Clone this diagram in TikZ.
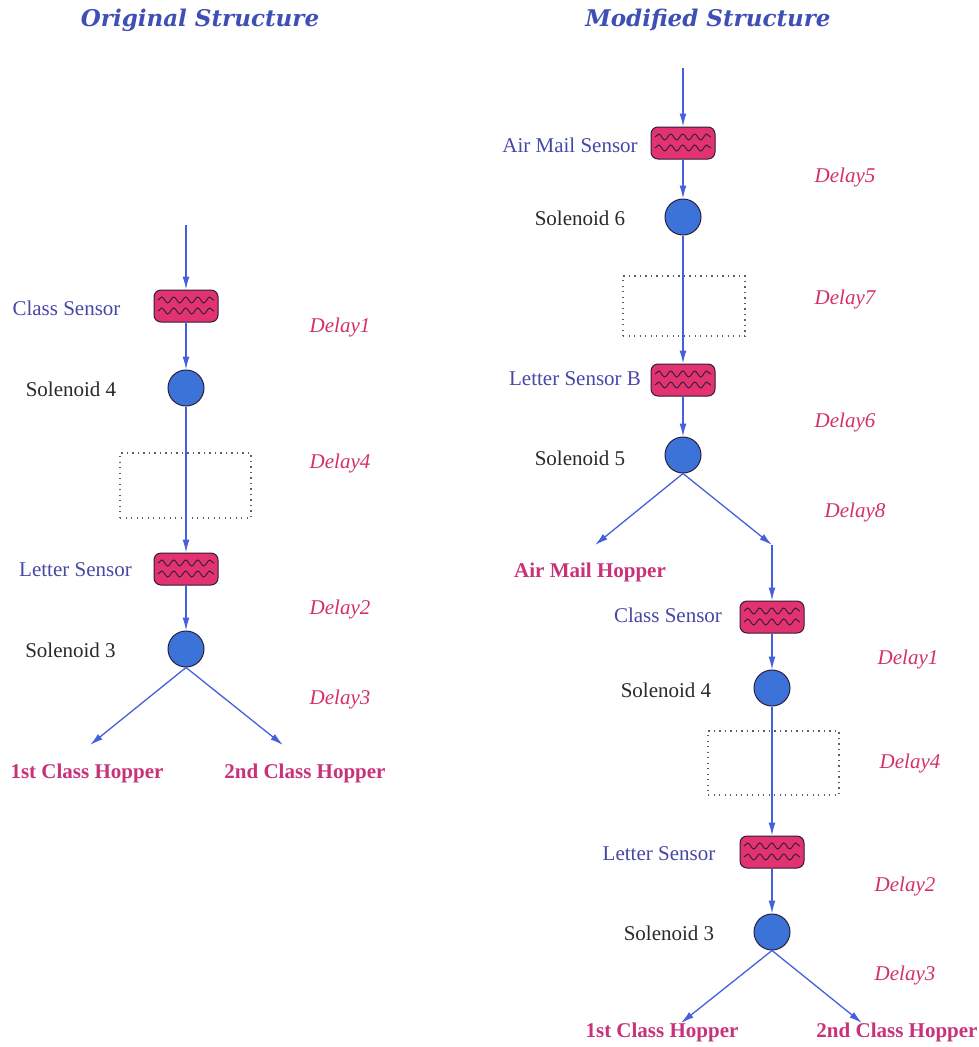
\documentclass[tikz,border=0pt]{standalone}
\usepackage{fontspec}
\setmainfont{Liberation Serif}
\newfontfamily\titlefont{DejaVu Serif}
\usetikzlibrary{arrows.meta,decorations.pathmorphing}

\definecolor{flow}{HTML}{4660DC}
\definecolor{sensorfill}{HTML}{E2326F}
\definecolor{solfill}{HTML}{3B73D9}
\definecolor{outline}{HTML}{2A1F3A}
\definecolor{sensortext}{HTML}{4548A6}
\definecolor{soltext}{HTML}{2A2A2A}
\definecolor{delaytext}{HTML}{D4306A}
\definecolor{hoppertext}{HTML}{C8327A}
\definecolor{titletext}{HTML}{3F4FB5}
\definecolor{boxdots}{HTML}{5A5A70}

\tikzset{
  basefont/.style={font=\fontsize{21}{24}\selectfont},
  wave/.style={draw=outline, line width=0.9pt, sharp corners,
    decorate, decoration={snake, segment length=12pt, amplitude=3pt}},
  sensor/.style={rectangle, rounded corners=7pt, minimum width=64pt,
    minimum height=32pt, inner sep=0pt, fill=sensorfill, draw=outline,
    line width=1pt,
    path picture={
      \draw[wave] ([xshift=4pt,yshift=6pt]path picture bounding box.west)
        -- ([xshift=-4pt,yshift=6pt]path picture bounding box.east);
      \draw[wave] ([xshift=4pt,yshift=-5pt]path picture bounding box.west)
        -- ([xshift=-4pt,yshift=-5pt]path picture bounding box.east);
    }},
  sol/.style={circle, minimum size=36pt, inner sep=0pt, fill=solfill,
    draw=outline, line width=1pt},
  delaybox/.style={rectangle, draw=boxdots, line width=1.1pt,
    dash pattern=on 1.3pt off 4.2pt, inner sep=0pt},
  flowline/.style={draw=flow, line width=1.3pt},
  flowarrow/.style={flowline, -{Latex[length=13pt,width=7pt]}},
  sensorlabel/.style={basefont, text=sensortext, inner sep=0pt},
  sollabel/.style={basefont, text=soltext, inner sep=0pt},
  delaylabel/.style={text=delaytext, font=\fontsize{21}{24}\selectfont\itshape, inner sep=0pt},
  hopper/.style={text=hoppertext, font=\fontsize{21}{24}\selectfont\bfseries, inner sep=0pt},
  heading/.style={text=titletext, font=\titlefont\fontsize{23}{27}\selectfont\bfseries\itshape, inner sep=0pt},
}

\begin{document}
\begin{tikzpicture}[x=1pt,y=-1pt]
\useasboundingbox[fill=white] (0,0) rectangle (979,1047);

% headings
\node[heading] (hOrig) at (200,20) {Original Structure};
\node[heading] (hMod) at (708,20) {Modified Structure};

% ---------------- original structure ----------------
\coordinate (inL) at (186,225);
\node[sensor] (csL) at (186,306) {};
\node[sol] (s4L) at (186,388) {};
\node[delaybox, minimum width=131pt, minimum height=65pt] (d4L) at (185.5,485.5) {};
\node[sensor] (lsL) at (186,569) {};
\node[sol] (s3L) at (186,649) {};
\coordinate (h1L) at (90,745);
\coordinate (h2L) at (283,745);

\draw[flowarrow] (inL) -- (csL);
\draw[flowarrow] (csL) -- (s4L);
\draw[flowarrow] (s4L) -- (lsL);
\draw[flowarrow] (lsL) -- (s3L);
\draw[flowarrow] (s3L.south) -- (h1L);
\draw[flowarrow] (s3L.south) -- (h2L);

\node[sensorlabel] (csLt) at (66.5,308) {Class Sensor};
\node[sollabel] (s4Lt) at (71,389) {Solenoid 4};
\node[sensorlabel] (lsLt) at (75.5,570) {Letter Sensor};
\node[sollabel] (s3Lt) at (70.5,650) {Solenoid 3};
\node[delaylabel] (dl1L) at (340,327) {Delay1};
\node[delaylabel] (dl4L) at (340,463) {Delay4};
\node[delaylabel] (dl2L) at (340,609) {Delay2};
\node[delaylabel] (dl3L) at (340,699) {Delay3};
\node[hopper] (h1Lt) at (87,773) {1st Class Hopper};
\node[hopper] (h2Lt) at (305,773) {2nd Class Hopper};

% ---------------- modified structure ----------------
\coordinate (inR) at (683,68);
\node[sensor] (amsR) at (683,143) {};
\node[sol] (s6R) at (683,217) {};
\node[delaybox, minimum width=122pt, minimum height=60pt] (d7R) at (684,306) {};
\node[sensor] (lsbR) at (683,380) {};
\node[sol] (s5R) at (683,455) {};
\coordinate (amh) at (595,545);
\coordinate (jn) at (772,545);
\node[sensor] (csR) at (772,617) {};
\node[sol] (s4R) at (772,688) {};
\node[delaybox, minimum width=131pt, minimum height=64pt] (d4R) at (773.5,763) {};
\node[sensor] (lsR) at (772,852) {};
\node[sol] (s3R) at (772,932) {};
\coordinate (h1R) at (681,1023);
\coordinate (h2R) at (862,1023);

\draw[flowarrow] (inR) -- (amsR);
\draw[flowarrow] (amsR) -- (s6R);
\draw[flowarrow] (s6R) -- (lsbR);
\draw[flowarrow] (lsbR) -- (s5R);
\draw[flowarrow] (s5R.south) -- (amh);
\draw[flowarrow] (s5R.south) -- (jn);
\draw[flowarrow] (jn) -- (csR);
\draw[flowarrow] (csR) -- (s4R);
\draw[flowarrow] (s4R) -- (lsR);
\draw[flowarrow] (lsR) -- (s3R);
\draw[flowarrow] (s3R.south) -- (h1R);
\draw[flowarrow] (s3R.south) -- (h2R);

\node[sensorlabel] (amsRt) at (570,145) {Air Mail Sensor};
\node[sollabel] (s6Rt) at (580,218) {Solenoid 6};
\node[sensorlabel] (lsbRt) at (575,379) {Letter Sensor B};
\node[sollabel] (s5Rt) at (580,458) {Solenoid 5};
\node[hopper] (amhT) at (590,572) {Air Mail Hopper};
\node[sensorlabel] (csRt) at (668,615) {Class Sensor};
\node[sollabel] (s4Rt) at (666,690) {Solenoid 4};
\node[sensorlabel] (lsRt) at (659,854) {Letter Sensor};
\node[sollabel] (s3Rt) at (669,933) {Solenoid 3};
\node[delaylabel] (dl5R) at (845,177) {Delay5};
\node[delaylabel] (dl7R) at (845,299) {Delay7};
\node[delaylabel] (dl6R) at (845,422) {Delay6};
\node[delaylabel] (dl8R) at (855,512) {Delay8};
\node[delaylabel] (dl1R) at (908,659) {Delay1};
\node[delaylabel] (dl4R) at (910,763) {Delay4};
\node[delaylabel] (dl2R) at (905,886) {Delay2};
\node[delaylabel] (dl3R) at (905,975) {Delay3};
\node[hopper] (h1Rt) at (662,1032) {1st Class Hopper};
\node[hopper] (h2Rt) at (897,1032) {2nd Class Hopper};
\end{tikzpicture}
\end{document}
